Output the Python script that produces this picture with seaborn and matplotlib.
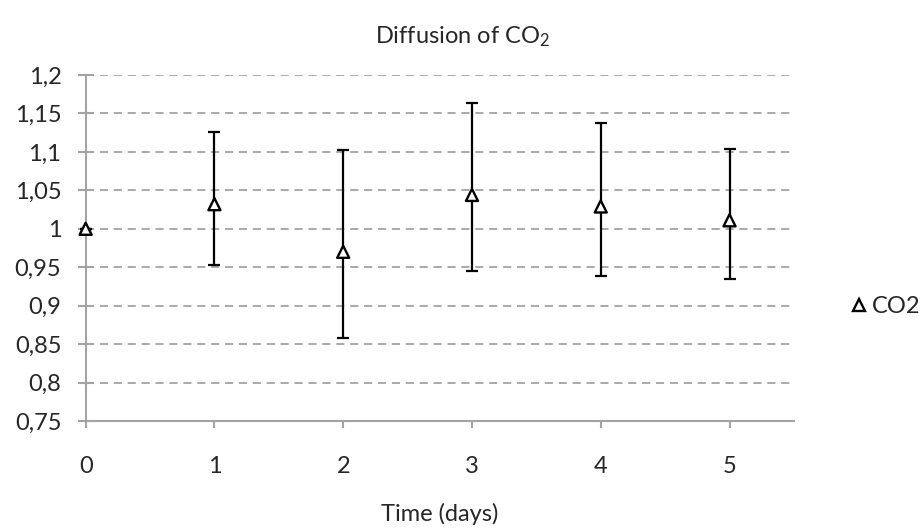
import numpy as np
import pandas as pd
import matplotlib
matplotlib.use("Agg")
import matplotlib.pyplot as plt
import seaborn as sns
from matplotlib.ticker import FuncFormatter, MultipleLocator

# -------------------------------
# Data
# -------------------------------
days = [0, 1, 2, 3, 4, 5]
co2 = [1.000, 1.032, 0.970, 1.044, 1.029, 1.011]
co2_high = [1.000, 1.126, 1.103, 1.163, 1.138, 1.104]
co2_low = [1.000, 0.953, 0.858, 0.945, 0.939, 0.935]

df = pd.DataFrame({"Time (days)": days, "value": co2, "series": "CO2"})
yerr = np.array([np.array(co2) - np.array(co2_low),
                 np.array(co2_high) - np.array(co2)])

# -------------------------------
# Plot
# -------------------------------
sns.set_theme(style="white")
plt.rcParams["font.family"] = ["Lato", "DejaVu Sans"]
plt.rcParams["mathtext.fontset"] = "custom"
plt.rcParams["mathtext.rm"] = "Lato"
plt.rcParams["mathtext.default"] = "rm"

fs = 17
fig = plt.figure(figsize=(9.21, 5.30), dpi=100)
ax = fig.add_axes([0.093, 0.2057, 0.769, 0.6528])

grey = "#a3a3a3"
ax.errorbar(days, co2, yerr=yerr, fmt="none", ecolor="black",
            elinewidth=1.6, capsize=4.5, capthick=1.6, zorder=3, clip_on=False)
sns.scatterplot(data=df, x="Time (days)", y="value", hue="series",
                palette=["white"], marker="^", s=75, edgecolor="black",
                linewidth=1.7, ax=ax, zorder=4, clip_on=False)

ax.set_xlim(0, 5.5)
ax.set_ylim(0.75, 1.2)
ax.xaxis.set_major_locator(MultipleLocator(1))
ax.yaxis.set_major_locator(MultipleLocator(0.05))
ax.yaxis.set_major_formatter(FuncFormatter(
    lambda v, p: f"{v:.2f}".rstrip("0").rstrip(".").replace(".", ",")))

ax.yaxis.grid(True, color=grey, linestyle=(0, (4.5, 3.2)), linewidth=1.3)
ax.xaxis.grid(False)
for side in ["top", "right"]:
    ax.spines[side].set_visible(False)
for side in ["left", "bottom"]:
    ax.spines[side].set_color(grey)
    ax.spines[side].set_linewidth(1.5)

ax.tick_params(axis="y", direction="inout", length=11, width=1.5,
               color=grey, labelsize=fs, pad=12, left=True)
ax.tick_params(axis="x", direction="out", length=5, width=1.5,
               color=grey, labelsize=fs, pad=20, bottom=True)

ax.set_xlabel("Time (days)", fontsize=fs, labelpad=19)
ax.set_ylabel("")
fig.text(0.502, 0.93, "Diffusion of CO$_2$", ha="center", va="center",
         fontsize=fs)

handles, labels = ax.get_legend_handles_labels()
ax.legend(handles, labels, loc="center left", bbox_to_anchor=(0.922, 0.422),
          bbox_transform=fig.transFigure, frameon=False, fontsize=fs,
          handlelength=0.8, handletextpad=0.15, borderpad=0,
          borderaxespad=0)

fig.savefig("out.png", dpi=100)
